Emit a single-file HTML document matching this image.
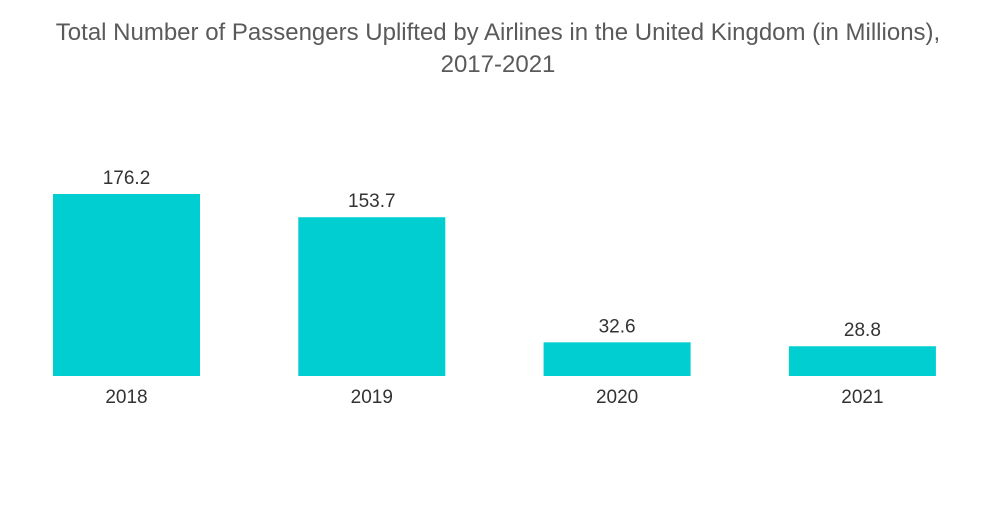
<!DOCTYPE html>
<html><head><meta charset="utf-8"><style>
body{margin:0;background:#fff;width:1000px;height:504px;overflow:hidden;font-family:"Liberation Sans",sans-serif}
</style></head><body>
<svg width="1000" height="504">
<text x="498" y="40" text-anchor="middle" font-size="24" fill="#5a5a5a">Total Number of Passengers Uplifted by Airlines in the United Kingdom (in Millions),</text>
<text x="498" y="72" text-anchor="middle" font-size="24" fill="#5a5a5a">2017-2021</text>
<g id="bars"></g>
</svg>
<script>
const categories=["2018","2019","2020","2021"];
const values=[176.2,153.7,32.6,28.8];
const baseY=376, pxPerUnit=1.033, startX=53, step=245.3, barW=147;
const yScale=v=>baseY-v*pxPerUnit;
const g=document.getElementById('bars');
const ns="http://www.w3.org/2000/svg";
categories.forEach((c,i)=>{
  const x=startX+i*step, y=yScale(values[i]);
  const r=document.createElementNS(ns,'rect');
  r.setAttribute('x',x);r.setAttribute('y',y);r.setAttribute('width',barW);r.setAttribute('height',baseY-y);r.setAttribute('fill','#00CED1');
  
  
  g.appendChild(r);
  const t=document.createElementNS(ns,'text');
  t.setAttribute('x',x+barW/2);t.setAttribute('y',y-10);t.setAttribute('text-anchor','middle');t.setAttribute('font-size','19');t.setAttribute('fill','#333');
  t.textContent=values[i];
  
  
  g.appendChild(t);
  const l=document.createElementNS(ns,'text');
  l.setAttribute('x',x+barW/2);l.setAttribute('y',403);l.setAttribute('text-anchor','middle');l.setAttribute('font-size','19');l.setAttribute('fill','#333');
  l.textContent=c;
  
  
  g.appendChild(l);
});
</script>
</body></html>
